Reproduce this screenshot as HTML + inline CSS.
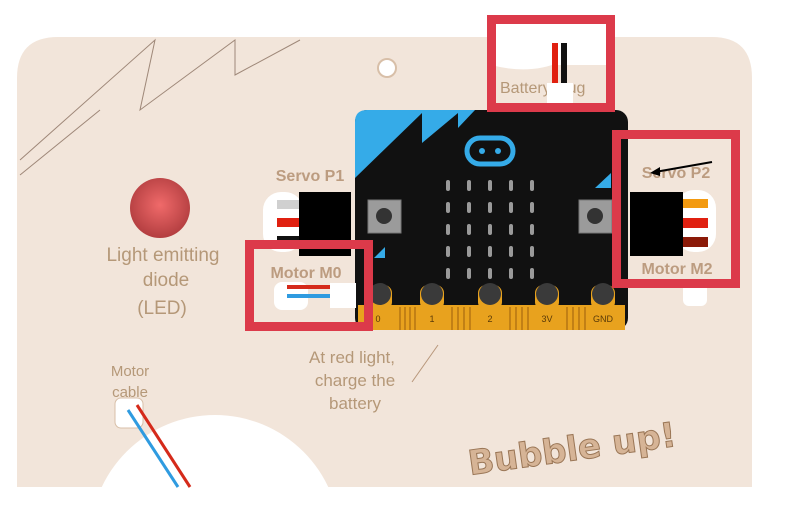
<!DOCTYPE html>
<html><head><meta charset="utf-8"><style>
html,body{margin:0;padding:0;background:#fff;width:786px;height:532px;overflow:hidden;}
svg{display:block}
text{font-family:"Liberation Sans",sans-serif;}
.b{font-weight:bold;}
</style></head><body>
<svg width="786" height="532" viewBox="0 0 786 532" xmlns="http://www.w3.org/2000/svg">
<defs>
<radialGradient id="led" cx="0.5" cy="0.45" r="0.55"><stop offset="0" stop-color="#f06a6a"/><stop offset="1" stop-color="#b33e40"/></radialGradient>
</defs>
<rect width="786" height="532" fill="#fff"/>
<path d="M17 487 L17 78 Q17 37 58 37 L712 37 Q752 37 752 78 L752 487 Z" fill="#f2e5da"/>
<circle cx="215" cy="540" r="125" fill="#fff"/>
<rect x="0" y="487" width="786" height="45" fill="#fff"/>
<g stroke="#8a7060" stroke-width="1" fill="none" opacity="0.8">
<path d="M20 160 L155 40 L140 110 L235 40 L235 75 L300 40"/>
<path d="M20 175 L100 110"/>
</g>
<circle cx="387" cy="68" r="9" fill="#fff" stroke="#d8bfa8" stroke-width="2"/>
<circle cx="160" cy="208" r="30" fill="url(#led)"/>
<g fill="#b59878" font-size="19" text-anchor="middle">
<text x="163" y="261">Light emitting</text>
<text x="166" y="286">diode</text>
<text x="162" y="314">(LED)</text>
<text x="130" y="376" font-size="15">Motor</text>
<text x="130" y="397" font-size="15">cable</text>
<text x="352" y="363" font-size="17">At red light,</text>
<text x="355" y="386" font-size="17">charge the</text>
<text x="355" y="409" font-size="17">battery</text>
</g>
<line x1="412" y1="382" x2="438" y2="345" stroke="#b8977b" stroke-width="1"/>
<g fill="#bc9c80" font-size="16" text-anchor="middle" class="b">
<text x="310" y="181" class="b">Servo P1</text>
<text x="306" y="278" class="b">Motor M0</text>
<text x="676" y="178" class="b">Servo P2</text>
<text x="677" y="274" class="b">Motor M2</text>
</g>
<text x="470" y="475" font-size="34" fill="#d6b496" stroke="#9a7656" stroke-width="1" transform="rotate(-8 470 475)" class="b" style="font-family:'DejaVu Sans',sans-serif">Bubble up!</text>
<rect x="115" y="398" width="28" height="30" rx="6" fill="#fff" stroke="#d8bfa8"/>
<line x1="128" y1="410" x2="178" y2="487" stroke="#2f9be0" stroke-width="3"/>
<line x1="137" y1="405" x2="190" y2="487" stroke="#d52a1a" stroke-width="3"/>
<rect x="263" y="192" width="40" height="60" rx="18" fill="#fff"/>
<rect x="277" y="200" width="26" height="9" fill="#d0d0d0"/>
<rect x="277" y="218" width="26" height="9" fill="#e02010"/>
<rect x="277" y="236" width="26" height="9" fill="#111"/>
<rect x="299" y="192" width="52" height="64" fill="#000"/>
<rect x="355" y="110" width="273" height="220" rx="12" fill="#111"/>
<path d="M367 110 L475 110 L458 128 L458 113 L422 143 L422 113 L355 178 L355 122 Q355 110 367 110 Z" fill="#35abe8"/>
<rect x="467" y="138" width="46" height="26" rx="13" fill="none" stroke="#35abe8" stroke-width="5"/>
<circle cx="482" cy="151" r="3" fill="#35abe8"/><circle cx="498" cy="151" r="3" fill="#35abe8"/>
<g fill="#9a9a9a">
<rect x="446" y="180" width="4" height="11" rx="2"/><rect x="467" y="180" width="4" height="11" rx="2"/><rect x="488" y="180" width="4" height="11" rx="2"/><rect x="509" y="180" width="4" height="11" rx="2"/><rect x="530" y="180" width="4" height="11" rx="2"/>
<rect x="446" y="202" width="4" height="11" rx="2"/><rect x="467" y="202" width="4" height="11" rx="2"/><rect x="488" y="202" width="4" height="11" rx="2"/><rect x="509" y="202" width="4" height="11" rx="2"/><rect x="530" y="202" width="4" height="11" rx="2"/>
<rect x="446" y="224" width="4" height="11" rx="2"/><rect x="467" y="224" width="4" height="11" rx="2"/><rect x="488" y="224" width="4" height="11" rx="2"/><rect x="509" y="224" width="4" height="11" rx="2"/><rect x="530" y="224" width="4" height="11" rx="2"/>
<rect x="446" y="246" width="4" height="11" rx="2"/><rect x="467" y="246" width="4" height="11" rx="2"/><rect x="488" y="246" width="4" height="11" rx="2"/><rect x="509" y="246" width="4" height="11" rx="2"/><rect x="530" y="246" width="4" height="11" rx="2"/>
<rect x="446" y="268" width="4" height="11" rx="2"/><rect x="467" y="268" width="4" height="11" rx="2"/><rect x="488" y="268" width="4" height="11" rx="2"/><rect x="509" y="268" width="4" height="11" rx="2"/><rect x="530" y="268" width="4" height="11" rx="2"/>
</g>
<rect x="368" y="200" width="33" height="33" fill="#9b9b9b" stroke="#777"/><circle cx="384" cy="216" r="8" fill="#333"/>
<rect x="579" y="200" width="33" height="33" fill="#9b9b9b" stroke="#777"/><circle cx="595" cy="216" r="8" fill="#333"/>
<path d="M374 258 L385 247 L385 258 Z" fill="#35abe8"/>
<path d="M595 188 L611 173 L611 188 Z" fill="#35abe8"/>
<rect x="358" y="305" width="267" height="25" fill="#e8a21e"/>
<g fill="#e8a21e">
<rect x="368" y="285" width="24" height="25" rx="8"/><rect x="420" y="285" width="24" height="25" rx="8"/><rect x="478" y="285" width="24" height="25" rx="8"/><rect x="535" y="285" width="24" height="25" rx="8"/><rect x="591" y="285" width="24" height="25" rx="8"/>
</g>
<g stroke="#a86a10" stroke-width="1.2">
<path d="M400 307V330M405 307V330M410 307V330M415 307V330M452 307V330M458 307V330M464 307V330M470 307V330M510 307V330M516 307V330M522 307V330M528 307V330M567 307V330M573 307V330M579 307V330M585 307V330"/>
</g>
<g fill="#3a3a3a"><circle cx="380" cy="294" r="11"/><circle cx="432" cy="294" r="11"/><circle cx="490" cy="294" r="11"/><circle cx="547" cy="294" r="11"/><circle cx="603" cy="294" r="11"/></g>
<g fill="#5a3a08" font-size="9" text-anchor="middle">
<text x="378" y="322">0</text><text x="432" y="322">1</text><text x="490" y="322">2</text><text x="547" y="322">3V</text><text x="603" y="322">GND</text>
</g>
<rect x="274" y="282" width="34" height="28" rx="8" fill="#fff"/>
<rect x="287" y="285" width="44" height="4" fill="#d52a1a"/>
<rect x="287" y="294" width="44" height="4" fill="#2f9be0"/>
<rect x="330" y="283" width="26" height="25" fill="#fff"/>
<rect x="676" y="190" width="40" height="62" rx="18" fill="#fff"/>
<rect x="683" y="199" width="25" height="9" fill="#f39a10"/>
<rect x="683" y="218" width="25" height="10" fill="#e02010"/>
<rect x="683" y="237" width="25" height="10" fill="#8b1a08"/>
<rect x="630" y="192" width="53" height="64" fill="#000"/>
<rect x="683" y="280" width="24" height="26" rx="6" fill="#fff"/>
<line x1="712" y1="162" x2="655" y2="172" stroke="#000" stroke-width="2"/>
<path d="M650 173 L660 167 L660 176 Z" fill="#000"/>
<rect x="491" y="20" width="119" height="45" fill="#fff"/>
<path d="M491 65 Q530 75 560 62 Q590 55 610 60 L610 20 Z" fill="#fff"/>
<text x="500" y="93" font-size="16" fill="#b59878">Battery plug</text>
<rect x="552" y="43" width="6" height="42" fill="#e02010"/>
<rect x="561" y="43" width="6" height="42" fill="#111"/>
<rect x="547" y="83" width="26" height="27" fill="#fff"/>
<g fill="none" stroke="#dc3a4a" stroke-width="9">
<rect x="491.5" y="19.5" width="119" height="88"/>
<rect x="616.5" y="134.5" width="119" height="149"/>
<rect x="249.5" y="244.5" width="119" height="82"/>
</g>
</svg>
</body></html>
